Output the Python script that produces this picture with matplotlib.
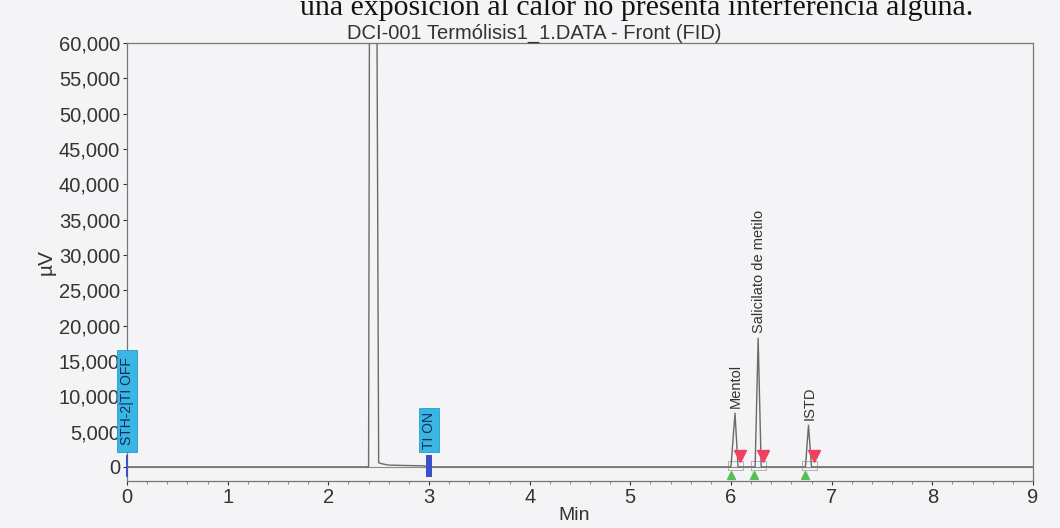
import matplotlib
matplotlib.use("Agg")
import matplotlib.pyplot as plt
from matplotlib.ticker import FuncFormatter, MultipleLocator

plt.rcParams['font.family'] = ['Liberation Sans', 'DejaVu Sans']

# trace points (min, uV)
trace_t = [0.0, 2.40, 2.41, 2.48, 2.50, 2.53, 2.60, 2.75, 2.95, 3.00,
           6.00, 6.04, 6.07, 6.24, 6.27, 6.30, 6.74, 6.77, 6.80, 9.0]
trace_y = [0, 0, 75000, 75000, 600, 450, 250, 200, 150, 0,
           0, 7600, 0, 0, 18200, 0, 0, 5900, 0, 0]

# integration events
peak_names = ['Mentol', 'Salicilato de metilo', 'ISTD']
peak_rt = [6.04, 6.27, 6.77]
peak_top = [7600, 18200, 5900]
peak_start = [6.00, 6.23, 6.74]
peak_end = [6.09, 6.32, 6.82]

# timed events
event_t = [0.0, 3.0]
event_lbl = ['STH-2|TI OFF', 'TI ON']
event_box = [(2100, 16500), (2100, 8300)]

yticks = list(range(0, 60001, 5000))

fig = plt.figure(figsize=(10.6, 5.28), dpi=100, facecolor='#f4f4f6')
ax = fig.add_axes([0.1198, 0.089, 0.8547, 0.8296])
ax.set_facecolor('#f4f4f6')

ax.plot(trace_t, trace_y, color='#6a6a6a', lw=1.0, zorder=2)

ax.set_xlim(0, 9)
ax.set_ylim(-2000, 60000)
ax.set_yticks(yticks)
ax.yaxis.set_major_formatter(FuncFormatter(lambda v, p: f'{int(v):,}'))
ax.xaxis.set_major_locator(MultipleLocator(1))
ax.xaxis.set_minor_locator(MultipleLocator(0.2))
ax.tick_params(axis='both', labelsize=14.5, colors='#333333', length=3, width=0.8, pad=2)
ax.tick_params(axis='x', which='minor', length=2, colors='#777777')
for s in ax.spines.values():
    s.set_color('#777777')
    s.set_linewidth(0.9)

ax.set_title('DCI-001 Termólisis1_1.DATA - Front (FID)', fontsize=14.5,
             color='#333333', pad=3, x=0.449)
ax.set_xlabel('Min', fontsize=14, color='#333333', labelpad=0, x=0.494)
ax.set_ylabel('µV', fontsize=15, color='#333333', labelpad=2)

# baseline of the integration
ax.plot([0, 9], [0, 0], color='#8a8a8a', lw=0.8, zorder=1)

for name, rt, top, st, en in zip(peak_names, peak_rt, peak_top, peak_start, peak_end):
    ax.text(rt + 0.01, top + 800, name, rotation=90, ha='center', va='bottom',
            fontsize=10.5, color='#333333')
    ax.plot([st - 0.03, en + 0.03, en + 0.03, st - 0.03, st - 0.03],
            [-500, -500, 900, 900, -500], color='#b0b0b0', lw=0.7, zorder=1)
    ax.plot([st], [-1100], marker='^', color='#55c055', ms=6, ls='none', zorder=3)
    ax.plot([en], [1500], marker='v', color='#f04060', ms=8, ls='none', zorder=3)

for t, lbl, (b0, b1), w in zip(event_t, event_lbl, event_box, [0.025, 0.06]):
    ax.bar(t, 3100, bottom=-1400, width=w, color='#3a50c8', zorder=4, clip_on=False)
    ax.bar(t, b1 - b0, bottom=b0, width=0.19, color='#38b6e4', edgecolor='#2a9ac8',
           lw=0.6, zorder=5, clip_on=False)
    ax.text(t, (b0 + b1) / 2, lbl, rotation=90, ha='center', va='center',
            fontsize=10, color='#1a2a50', zorder=6, clip_on=False)

# scanned page text above the chart (cut at the top edge in the original)
fig.text(0.283, 0.972, 'una exposición al calor no presenta interferencia alguna.',
         family=['Liberation Serif', 'DejaVu Serif'], fontsize=21.5,
         ha='left', va='baseline', color='#111111')

fig.savefig('out.png', dpi=100, facecolor=fig.get_facecolor())
